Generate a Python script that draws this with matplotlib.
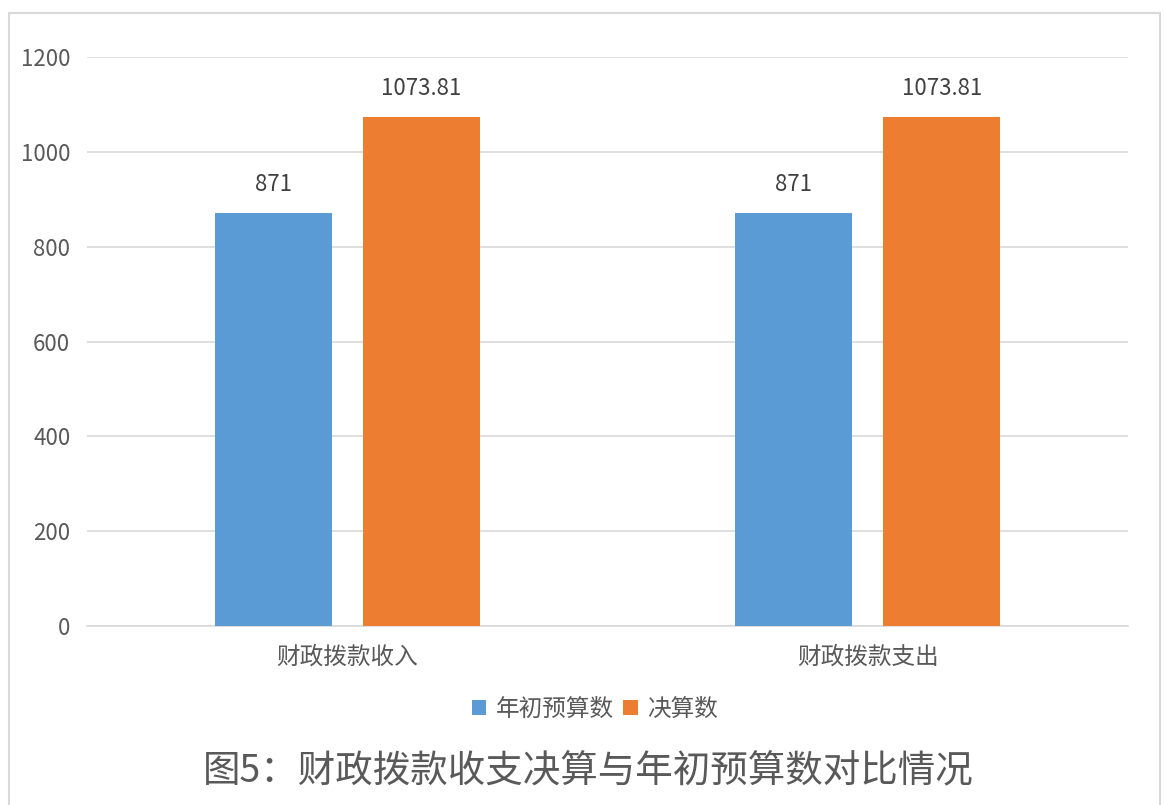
import matplotlib
matplotlib.use("Agg")
import matplotlib.pyplot as plt
from matplotlib.patches import Rectangle
import numpy as np

categories = ["财政拨款收入", "财政拨款支出"]
series_names = ["年初预算数", "决算数"]
budget = [871, 871]
final = [1073.81, 1073.81]
value_labels_budget = ["871", "871"]
value_labels_final = ["1073.81", "1073.81"]
yticks = [0, 200, 400, 600, 800, 1000, 1200]
title = "图5：财政拨款收支决算与年初预算数对比情况"

colors = ["#5B9BD5", "#ED7D31"]
text_color = "#595959"
grid_color = "#D9D9D9"

plt.rcParams['font.family'] = ['Noto Sans CJK SC', 'DejaVu Sans']

fig = plt.figure(figsize=(11.65, 8.05), dpi=100)
fig.patch.set_facecolor("white")

# outer border
fig.patches.append(Rectangle((9/1165, -0.05), (1160-9)/1165, 1 - 13/805 + 0.05,
                             transform=fig.transFigure, fill=False,
                             edgecolor="#D9D9D9", linewidth=1.5))

ax = fig.add_axes([87/1165, 1-626/805, (1128-87)/1165, (626-57)/805])
x = np.arange(len(categories))
w = 0.2246
off = 0.142
b1 = ax.bar(x - off, budget, w, color=colors[0], label=series_names[0], zorder=3)
b2 = ax.bar(x + off, final, w, color=colors[1], label=series_names[1], zorder=3)

for bars, labs in ((b1, value_labels_budget), (b2, value_labels_final)):
    for rect, lab in zip(bars, labs):
        ax.annotate(lab, (rect.get_x() + rect.get_width()/2, rect.get_height()),
                    xytext=(0, 20.5), textcoords="offset points", ha="center", va="center",
                    fontsize=16, color="#404040")

ax.set_xlim(-0.5, 1.5)
ax.set_ylim(0, 1200)
ax.set_yticks(yticks)
ax.set_yticklabels([str(t) for t in yticks])
ax.set_xticks(x)
ax.set_xticklabels(categories)
ax.tick_params(axis="y", length=0, pad=12, labelsize=16, labelcolor=text_color)
ax.tick_params(axis="x", length=0, pad=14, labelsize=17, labelcolor=text_color)
ax.yaxis.grid(True, color=grid_color, linewidth=1.2, zorder=0)
ax.set_axisbelow(True)
for s in ["top", "right", "left"]:
    ax.spines[s].set_visible(False)
ax.spines["bottom"].set_color(grid_color)
ax.spines["bottom"].set_linewidth(1.2)

leg = fig.legend(handles=[b1, b2], labels=series_names, loc="center",
                 bbox_to_anchor=(595/1165, 1-709/805), ncol=2, frameon=False,
                 fontsize=17, handlelength=0.6, handleheight=0.6,
                 handletextpad=0.4, columnspacing=0.4)
for t in leg.get_texts():
    t.set_color(text_color)

fig.text(588/1165, 1-772/805, title, ha="center", va="center",
         fontsize=27, color="#595959", fontweight="light")

fig.savefig("out.png", dpi=100, facecolor="white")
